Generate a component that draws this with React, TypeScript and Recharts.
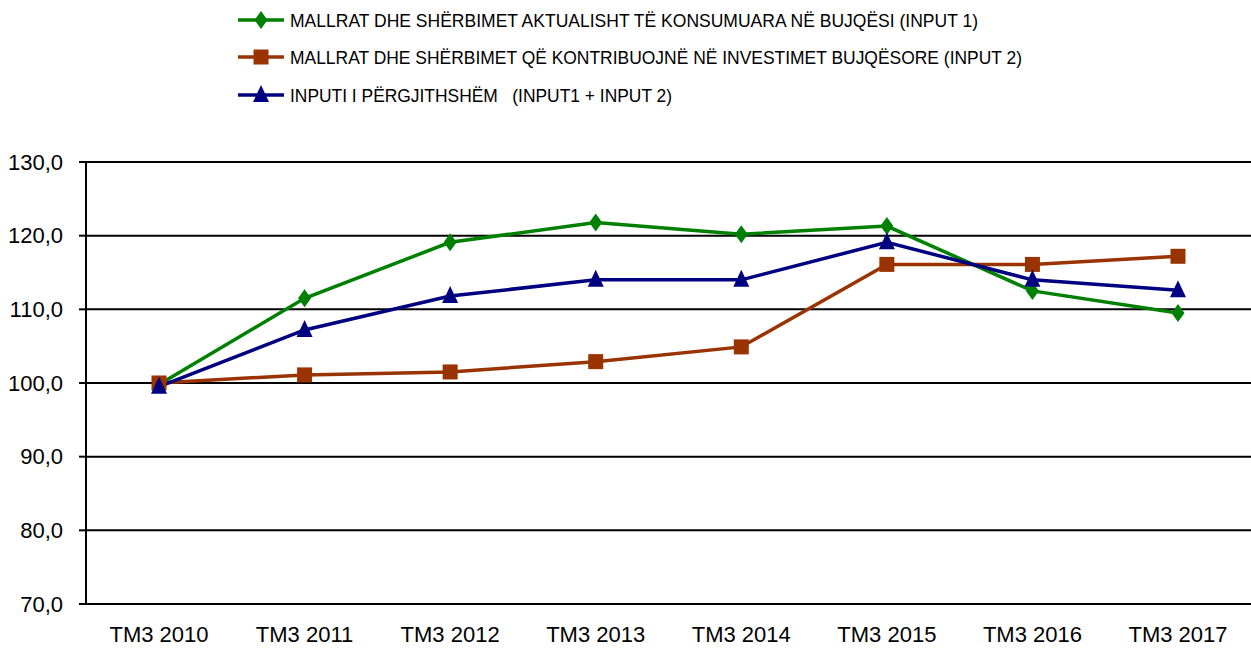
import { CartesianGrid, Line, LineChart, XAxis, YAxis } from "recharts";

const categories = ["TM3 2010", "TM3 2011", "TM3 2012", "TM3 2013", "TM3 2014", "TM3 2015", "TM3 2016", "TM3 2017"];
const input1 = [99.8, 111.5, 119.1, 121.8, 120.2, 121.3, 112.5, 109.5];
const input2 = [100.0, 101.1, 101.5, 102.9, 104.9, 116.1, 116.1, 117.2];
const total = [99.5, 107.2, 111.8, 114.0, 114.0, 119.1, 114.0, 112.6];
const yTicks = [70, 80, 90, 100, 110, 120, 130];

const legendLabels = [
  "MALLRAT DHE SHËRBIMET AKTUALISHT TË KONSUMUARA NË BUJQËSI (INPUT 1)",
  "MALLRAT DHE SHËRBIMET QË KONTRIBUOJNË NË INVESTIMET BUJQËSORE (INPUT 2)",
  "INPUTI I PËRGJITHSHËM   (INPUT1 + INPUT 2)",
];

const GREEN = "#008000";
const BROWN = "#993300";
const NAVY = "#000080";
const FONT = "'Liberation Sans', Arial, sans-serif";

const data = categories.map((c, i) => ({
  name: c,
  input1: input1[i],
  input2: input2[i],
  total: total[i],
}));

const Diamond = ({ cx, cy, fill }: any) => (
  <path d={`M${cx},${cy - 9} L${cx + 6.5},${cy} L${cx},${cy + 9} L${cx - 6.5},${cy} Z`} fill={fill} />
);
const Square = ({ cx, cy, fill }: any) => (
  <rect x={cx - 7.5} y={cy - 7.5} width={15} height={15} fill={fill} />
);
const Triangle = ({ cx, cy, fill }: any) => (
  <path d={`M${cx},${cy - 10} L${cx + 8},${cy + 7} L${cx - 8},${cy + 7} Z`} fill={fill} />
);

function LegendBlock() {
  const rows = [
    { color: GREEN, Mark: Diamond, y: 20, len: 688 },
    { color: BROWN, Mark: Square, y: 57, len: 732 },
    { color: NAVY, Mark: Triangle, y: 95, len: 382 },
  ];
  return (
    <svg width={1251} height={110} style={{ position: "absolute", left: 0, top: 0 }}>
      {rows.map((r, i) => (
        <g key={i}>
          <line x1={238} x2={284} y1={r.y} y2={r.y} stroke={r.color} strokeWidth={3.5} />
          <r.Mark cx={261} cy={r.y} fill={r.color} />
          <text
            x={290}
            y={r.y + 7}
            fontFamily={FONT}
            fontSize={18.5}
            fill="#000"
            textLength={r.len}
            lengthAdjust="spacingAndGlyphs"
            style={{ whiteSpace: "pre" }}
          >
            {legendLabels[i]}
          </text>
        </g>
      ))}
    </svg>
  );
}

export default function App() {
  return (
    <div style={{ position: "absolute", left: 0, top: 0, width: 1251, height: 650, background: "#fff" }}>
      <LegendBlock />
      <LineChart
        width={1251}
        height={650}
        data={data}
        margin={{ top: 162, right: 0, left: 0, bottom: 0 }}
      >
        <CartesianGrid vertical={false} stroke="#000" strokeWidth={2} />
        <XAxis
          dataKey="name"
          axisLine={false}
          tickLine={false}
          tickSize={0}
          tickMargin={22}
          height={46}
          interval={0}
          padding={{ left: 73, right: 73 }}
          tick={{ fill: "#000", fontSize: 22, fontFamily: FONT }}
        />
        <YAxis
          domain={[70, 130]}
          ticks={yTicks}
          width={86}
          axisLine={{ stroke: "#000", strokeWidth: 2 }}
          tickLine={{ stroke: "#000", strokeWidth: 2 }}
          tickSize={7}
          tickMargin={16}
          tickFormatter={(v: number) => v.toFixed(1).replace(".", ",")}
          tick={{ fill: "#000", fontSize: 22, fontFamily: FONT }}
        />
        <Line
          dataKey="input1"
          stroke={GREEN}
          strokeWidth={3.5}
          dot={<Diamond fill={GREEN} />}
          isAnimationActive={false}
        />
        <Line
          dataKey="input2"
          stroke={BROWN}
          strokeWidth={3.5}
          dot={<Square fill={BROWN} />}
          isAnimationActive={false}
        />
        <Line
          dataKey="total"
          stroke={NAVY}
          strokeWidth={3.5}
          dot={<Triangle fill={NAVY} />}
          isAnimationActive={false}
        />
      </LineChart>
    </div>
  );
}
